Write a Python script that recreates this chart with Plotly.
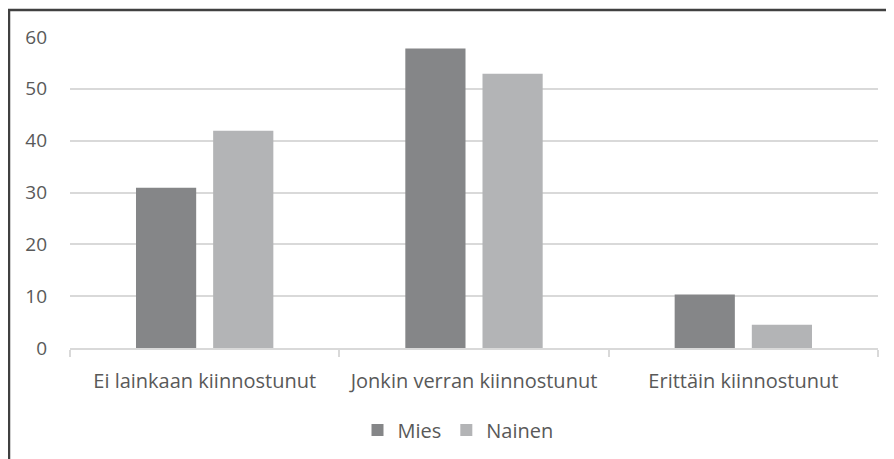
import plotly.graph_objects as go

categories = ["Ei lainkaan kiinnostunut", "Jonkin verran kiinnostunut", "Erittäin kiinnostunut"]
mies = [30.9, 57.8, 10.3]
nainen = [41.9, 52.9, 4.5]
y_ticks = [0, 10, 20, 30, 40, 50, 60]

W, H = 894, 459
OFF = 8  # page body margin offset
L, R, T, B = 70 - OFF, 24, 37 - OFF, 459 - 348 + OFF
pw, ph = W - L - R, H - T - B

def px_x(x):
    return (x - OFF - L) / pw

def px_y(y):
    return (H - B - (y - OFF)) / ph

fig = go.Figure()
fig.add_trace(go.Bar(name="Mies", x=categories, y=mies, marker_color="#858688", marker_line_width=0))
fig.add_trace(go.Bar(name="Nainen", x=categories, y=nainen, marker_color="#b3b4b6", marker_line_width=0))

font_family = "Open Sans, Liberation Sans, sans-serif"
fig.update_layout(
    width=W, height=H,
    margin=dict(l=L, r=R, t=T, b=B, autoexpand=False),
    plot_bgcolor="white", paper_bgcolor="white",
    barmode="group", bargap=0.427, bargroupgap=0.22,
    font=dict(family=font_family, size=19, color="#595959"),
    showlegend=True,
    legend=dict(orientation="h", x=px_x(458), xanchor="center", y=px_y(430), yanchor="middle",
                font=dict(size=20, color="#595959"), itemwidth=30, traceorder="normal"),
    xaxis=dict(showline=True, linecolor="#d9d9d9", linewidth=1.5, ticks="outside", tickson="boundaries",
               ticklen=7, tickcolor="#d9d9d9", tickwidth=1.5, showgrid=False, ticklabelstandoff=14,
               tickfont=dict(size=20, color="#595959")),
    yaxis=dict(range=[0, 60], tickvals=y_ticks, showgrid=True, gridcolor="#d9d9d9", gridwidth=1.5,
               zeroline=False, showline=False, ticks="", ticklabelstandoff=22,
               tickfont=dict(size=19, color="#595959")),
)

frame_color = "#404040"
fig.add_shape(type="line", xref="paper", yref="paper", x0=px_x(8), x1=px_x(910), y0=px_y(10), y1=px_y(10),
              line=dict(color=frame_color, width=2.5))
fig.add_shape(type="line", xref="paper", yref="paper", x0=px_x(9), x1=px_x(9), y0=px_y(10), y1=px_y(480),
              line=dict(color=frame_color, width=2.5))

fig.write_html("out.html")
